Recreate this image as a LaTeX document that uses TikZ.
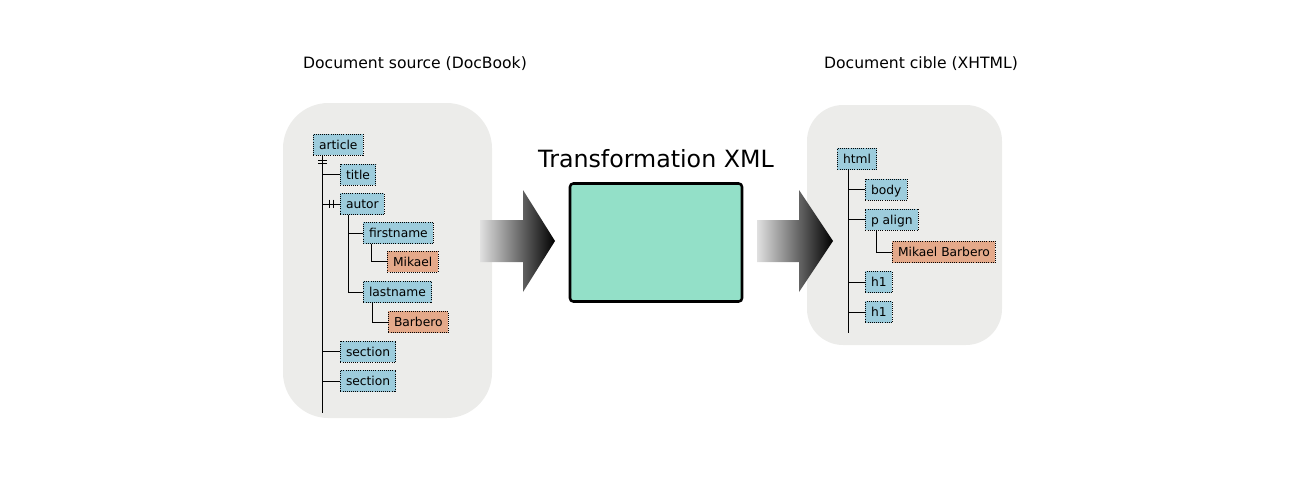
\documentclass[tikz,border=0pt]{standalone}
\usepackage{fontspec}
\setmainfont{DejaVu Sans}
\usetikzlibrary{shadings}
\definecolor{panelgray}{HTML}{ECECEA}
\definecolor{nodeblue}{HTML}{9DCCDC}
\definecolor{nodeorange}{HTML}{E4A98A}
\definecolor{boxgreen}{HTML}{93E0C8}
\tikzset{
  panel/.style={fill=panelgray, draw=none},
  elem/.style={fill=nodeblue, draw=black, densely dotted, line width=0.6pt, anchor=west,
    minimum height=15.8pt, inner xsep=4.2pt, inner ysep=0pt, font=\fontsize{9.2pt}{11pt}\selectfont, text depth=0pt},
  txt/.style={elem, fill=nodeorange},
  conn/.style={draw=black, line width=0.75pt},
  heading/.style={font=\fontsize{11.7pt}{14pt}\selectfont},
  bigarrow/.style={left color=black!12, right color=black, draw=none, shading angle=90},
}
\begin{document}
\begin{tikzpicture}[x=0.75pt,y=-0.75pt]
\useasboundingbox (0,0) rectangle (1300,476);
% panels
\fill[panel, rounded corners=34pt] (283,103) rectangle (492,418);
\fill[panel, rounded corners=27pt] (807,105) rectangle (1002,345);
% headings
\node[heading] (hsrc) at (415,64) {Document source (DocBook)};
\node[heading] (hdst) at (921,64) {Document cible (XHTML)};
\node[font=\fontsize{17.8pt}{20pt}\selectfont] (htr) at (656,159) {Transformation XML};
% central box
\node[draw=black, line width=1.9pt, fill=boxgreen, rounded corners=2.5pt, minimum width=129pt, minimum height=88.5pt] (xslt) at (656,242.5) {};
% arrows
\shade[bigarrow] (480,220) -- (523,220) -- (523,190) -- (555,241) -- (523,292) -- (523,262) -- (480,262) -- cycle;
\shade[bigarrow] (757,220) -- (799,220) -- (799,190) -- (833,241) -- (799,292) -- (799,262) -- (757,262) -- cycle;
% left tree
\node[elem] (article) at (313,144.5) {article};
\node[elem] (title) at (340,174.5) {title};
\node[elem] (autor) at (340,204) {autor};
\node[elem] (firstname) at (363,233) {firstname};
\node[txt] (mikael) at (387,261.5) {Mikael};
\node[elem] (lastname) at (363,292) {lastname};
\node[txt] (barbero) at (388,322) {Barbero};
\node[elem] (section1) at (340,351.5) {section};
\node[elem] (section2) at (340,381) {section};
\coordinate (trunkL) at (322,413);
\draw[conn] (trunkL |- article.south) -- (trunkL);
\draw[conn] (318,160) -- (327,160) (318,163.5) -- (327,163.5);
\draw[conn] (title.west) -- (title.west -| trunkL);
\draw[conn] (autor.west) -- (autor.west -| trunkL);
\draw[conn] (329.5,199.5) -- (329.5,207.5) (333,199.5) -- (333,207.5);
\draw[conn] (section1.west) -- (section1.west -| trunkL);
\draw[conn] (section2.west) -- (section2.west -| trunkL);
\coordinate (autorx) at (348,0);
\draw[conn] (autorx |- autor.south) |- (lastname.west);
\draw[conn] (firstname.west) -- (firstname.west -| autorx);
\coordinate (firstx) at (371,0);
\draw[conn] (firstx |- firstname.south) |- (mikael.west);
\coordinate (lastx) at (372,0);
\draw[conn] (lastx |- lastname.south) |- (barbero.west);
% right tree
\node[elem] (html) at (837,159) {html};
\node[elem] (body) at (865,189.5) {body};
\node[elem] (palign) at (865,219.5) {p align};
\node[txt] (mb) at (892,252) {Mikael Barbero};
\node[elem] (h1a) at (865,282) {h1};
\node[elem] (h1b) at (865,312) {h1};
\coordinate (trunkR) at (848,333);
\draw[conn] (trunkR |- html.south) -- (trunkR);
\draw[conn] (body.west) -- (body.west -| trunkR);
\draw[conn] (palign.west) -- (palign.west -| trunkR);
\draw[conn] (h1a.west) -- (h1a.west -| trunkR);
\draw[conn] (h1b.west) -- (h1b.west -| trunkR);
\coordinate (palx) at (876,0);
\draw[conn] (palx |- palign.south) |- (mb.west);
\end{tikzpicture}
\end{document}
